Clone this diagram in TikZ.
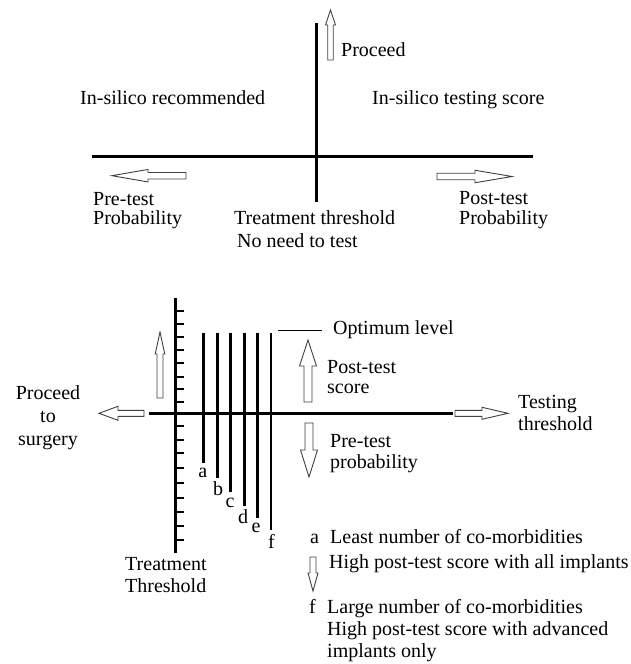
\documentclass[tikz,border=0pt]{standalone}
\usepackage{fontspec}
\setmainfont{Liberation Serif}
% hollow block arrow: tail x, tail y, angle, length, shaft width, head width, head length
\newcommand\hollowarrow[7]{%
  \draw[harrowline, shift={(#1,#2)}, rotate=#3]
    (0,-#5/2) -- ({#4-#7},-#5/2) -- ({#4-#7},-#6/2) -- (#4,0)
    -- ({#4-#7},#6/2) -- ({#4-#7},#5/2) -- (0,#5/2) -- cycle;}
\begin{document}
\begin{tikzpicture}[x=1pt,y=-1pt,
  every node/.style={inner sep=0pt, font=\fontsize{20}{23}\selectfont},
  axisline/.style={line width=3pt},
  tickline/.style={line width=2.6pt},
  grade/.style={line width=2.8pt},
  harrowline/.style={draw=black!75, line width=0.9pt, fill=white},
  lbl/.style={anchor=base west},
  clbl/.style={anchor=base}]
\useasboundingbox (0,0) rectangle (630,664);

% ---------- upper diagram ----------
\coordinate (vt) at (316,23);
\coordinate (vb) at (316,202);
\coordinate (hl) at (92,156);
\coordinate (hr) at (533,156);
\draw[axisline] (vt) -- (vb);
\draw[axisline] (hl) -- (hr);

\hollowarrow{330.5}{60}{90}{50}{5.5}{10}{15}
\hollowarrow{186}{175.7}{180}{74}{6.5}{12.5}{36}
\hollowarrow{437}{176.5}{0}{75}{6.5}{12.5}{37}

\node[lbl] (proceed) at (341,56) {Proceed};
\node[lbl] (rec) at (80,104) {In-silico recommended};
\node[lbl] (score) at (372,104) {In-silico testing score};
\node[lbl] (pre1) at (93,205) {Pre-test};
\node[lbl] (pre2) at (93,224.5) {Probability};
\node[lbl] (post1) at (459,204) {Post-test};
\node[lbl] (post2) at (459,224.5) {Probability};
\node[lbl] (tt1) at (234,224) {Treatment threshold};
\node[lbl] (tt2) at (237,247) {No need to test};

% ---------- lower diagram ----------
\coordinate (at) at (175.5,298);
\coordinate (ab) at (175.5,553);
\coordinate (al) at (149,413.3);
\coordinate (ar) at (453,413.3);
\draw[axisline] (at) -- (ab);
\draw[axisline] (al) -- (ar);
\foreach \t in {311,324,337,350,363,377,389,402,426,440,453,468,483,498,512,526,540}
  \draw[tickline] (175.5,\t) -- (183.5,\t);

\foreach \x/\b in {203.3/463.3, 217.7/478, 230.5/491.7, 244.3/506, 257.3/518.3, 271/530}
  \draw[grade] (\x,332.7) -- (\x,\b);

\node[clbl] (la) at (202.7,477) {a};
\node[clbl] (lb) at (218,495) {b};
\node[clbl] (lc) at (230,507) {c};
\node[clbl] (ld) at (243,523) {d};
\node[clbl] (le) at (256,532) {e};
\node[clbl] (lf) at (271.5,548) {f};

\coordinate (o1) at (278,330);
\coordinate (o2) at (322,330);
\draw[line width=1pt] (o1) -- (o2);
\node[lbl] (opt) at (333,334) {Optimum level};

\hollowarrow{160}{398}{90}{66}{6}{9.5}{22}
\hollowarrow{144}{413.3}{180}{45}{6}{14}{19}
\hollowarrow{308}{402}{90}{62}{8}{17}{26}
\hollowarrow{309}{423}{-90}{54}{8}{17}{27}
\hollowarrow{455}{413.3}{0}{53}{6}{12}{26}
\hollowarrow{313}{557}{-90}{34}{6}{10}{18}

\node[lbl] (ps1) at (327,373) {Post-test};
\node[lbl] (ps2) at (327,393) {score};
\node[lbl] (pp1) at (330,447) {Pre-test};
\node[lbl] (pp2) at (330,468) {probability};
\node[lbl] (ts1) at (518,408) {Testing};
\node[lbl] (ts2) at (518,430) {threshold};
\node[clbl] (ps_a) at (48,399) {Proceed};
\node[clbl] (ps_b) at (48,422) {to};
\node[clbl] (ps_c) at (48,445) {surgery};
\node[lbl] (tr1) at (125,570) {Treatment};
\node[lbl] (tr2) at (125,592) {Threshold};

\node[lbl] (ka) at (310,543.5) {a};
\node[lbl] (ka1) at (330,543.5) {Least number of co-morbidities};
\node[lbl] (ka2) at (329,568.5) {High post-test score with all implants};
\node[lbl] (kf) at (309,613.5) {f};
\node[lbl] (kf1) at (327,613.5) {Large number of co-morbidities};
\node[lbl] (kf2) at (327,635) {High post-test score with advanced};
\node[lbl] (kf3) at (327,657) {implants only};
\end{tikzpicture}
\end{document}
